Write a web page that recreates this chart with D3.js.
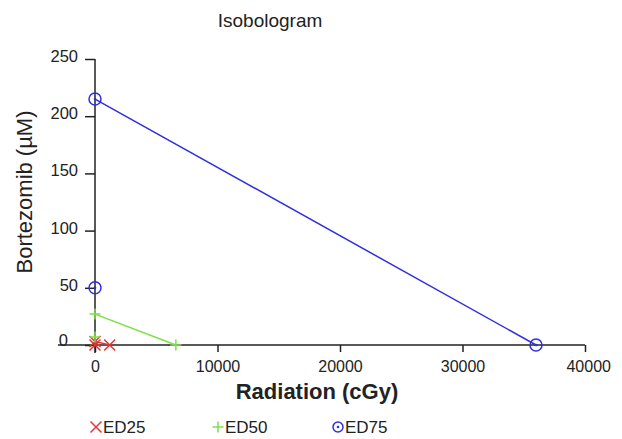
<!DOCTYPE html>
<html>
<head>
<meta charset="utf-8">
<script src="https://cdn.jsdelivr.net/npm/d3@7"></script>
<style>
  body { margin: 0; background: #fff; }
  text { font-family: Arial, "Liberation Sans", sans-serif; fill: #222; }
</style>
</head>
<body>
<div id="chart"></div>
<script>
// isobole end points [radiation cGy, bortezomib uM]
var ed25Line = [[0, 3], [1200, 0]];
var ed50Line = [[0, 27], [6600, 0]];
var ed75Line = [[0, 215], [36000, 0]];
// combination points
var ed25Extra = [[0, 0]];
var ed50Extra = [[0, 7]];
var ed75Extra = [[0, 50]];
var seriesNames = ['ED25', 'ED50', 'ED75'];
var xTicks = [0, 10000, 20000, 30000, 40000];
var yTicks = [0, 50, 100, 150, 200, 250];

var width = 622, height = 439;
var svg = d3.select('#chart').append('svg')
  .attr('width', width).attr('height', height);

var x = d3.scaleLinear().domain([0, 40000]).range([95, 585]);
var y = d3.scaleLinear().domain([0, 250]).range([345, 59]);

var colors = {ED25: '#e03838', ED50: '#7ee046', ED75: '#2f2fe0'};

// title
svg.append('text').attr('x', 270).attr('y', 27)
  .attr('text-anchor', 'middle').style('font-size', '19px')
  .text('Isobologram');

// axes
var xAxis = svg.append('g').attr('transform', 'translate(0,' + y(0) + ')')
  .call(d3.axisBottom(x).tickValues(xTicks).tickSize(7).tickSizeOuter(0).tickFormat(d3.format('d')));
xAxis.select('.domain').remove();
xAxis.selectAll('line').attr('stroke', '#222').attr('stroke-width', 1.5);
xAxis.selectAll('text').style('font-size', '16px').attr('dy', '1.05em');
xAxis.selectAll('.tick text').filter(function(d){ return d === 40000; }).attr('dx', '0.2em');

var yAxis = svg.append('g').attr('transform', 'translate(' + x(0) + ',0)')
  .call(d3.axisLeft(y).tickValues(yTicks).tickSize(10).tickSizeOuter(0));
yAxis.select('.domain').remove();
yAxis.selectAll('line').attr('stroke', '#222').attr('stroke-width', 1.5);
yAxis.selectAll('text').style('font-size', '16.5px').attr('x', -17).attr('dy', '0.15em');
yAxis.selectAll('.tick').filter(function(d){ return d === 0; })
  .select('text').attr('x', -27).attr('dy', '0.05em');

svg.append('line').attr('x1', 58).attr('x2', x(40000))
  .attr('y1', y(0)).attr('y2', y(0)).attr('stroke', '#222').attr('stroke-width', 1.5);
svg.append('line').attr('x1', x(0)).attr('x2', x(0))
  .attr('y1', y(250)).attr('y2', y(0) + 8).attr('stroke', '#222').attr('stroke-width', 1.5);

// axis labels
svg.append('text').attr('x', 317).attr('y', 399)
  .attr('text-anchor', 'middle').style('font-size', '22px').style('font-weight', 'bold')
  .text('Radiation (cGy)');
svg.append('text').attr('transform', 'translate(32,192) rotate(-90)')
  .attr('text-anchor', 'middle').style('font-size', '22px')
  .text('Bortezomib (\u00b5M)');

function marker(g, name, cx, cy, r) {
  var c = colors[name], s = 5.5;
  if (name === 'ED25') {
    g.append('path').attr('d', 'M' + (cx - s) + ',' + (cy - s) + 'L' + (cx + s) + ',' + (cy + s) +
      'M' + (cx - s) + ',' + (cy + s) + 'L' + (cx + s) + ',' + (cy - s))
      .attr('stroke', c).attr('stroke-width', 1.5).attr('fill', 'none');
  } else if (name === 'ED50') {
    g.append('path').attr('d', 'M' + (cx - s) + ',' + cy + 'L' + (cx + s) + ',' + cy +
      'M' + cx + ',' + (cy - s) + 'L' + cx + ',' + (cy + s))
      .attr('stroke', c).attr('stroke-width', 1.5).attr('fill', 'none');
  } else {
    g.append('circle').attr('cx', cx).attr('cy', cy).attr('r', r || 5)
      .attr('stroke', c).attr('stroke-width', 1.5).attr('fill', 'none');
    g.append('circle').attr('cx', cx).attr('cy', cy).attr('r', 1.3).attr('fill', c);
  }
}

var line = d3.line().x(function(d){ return x(d[0]); }).y(function(d){ return y(d[1]); });
var series = [
  {name: 'ED25', line: ed25Line, extra: ed25Extra},
  {name: 'ED50', line: ed50Line, extra: ed50Extra},
  {name: 'ED75', line: ed75Line, extra: ed75Extra}
];
var plot = svg.append('g');
series.forEach(function(s) {
  plot.append('path').datum(s.line).attr('d', line)
    .attr('fill', 'none').attr('stroke', colors[s.name]).attr('stroke-width', 1.5);
  s.line.concat(s.extra).forEach(function(p) {
    marker(plot, s.name, x(p[0]), y(p[1]), 6);
  });
});

// legend
var legendX = [96, 218, 338];
var legend = svg.append('g');
seriesNames.forEach(function(n, i) {
  marker(legend, n, legendX[i], 427);
  legend.append('text').attr('x', legendX[i] + 7).attr('y', 433)
    .style('font-size', '17px').text(n);
});
</script>
</body>
</html>
